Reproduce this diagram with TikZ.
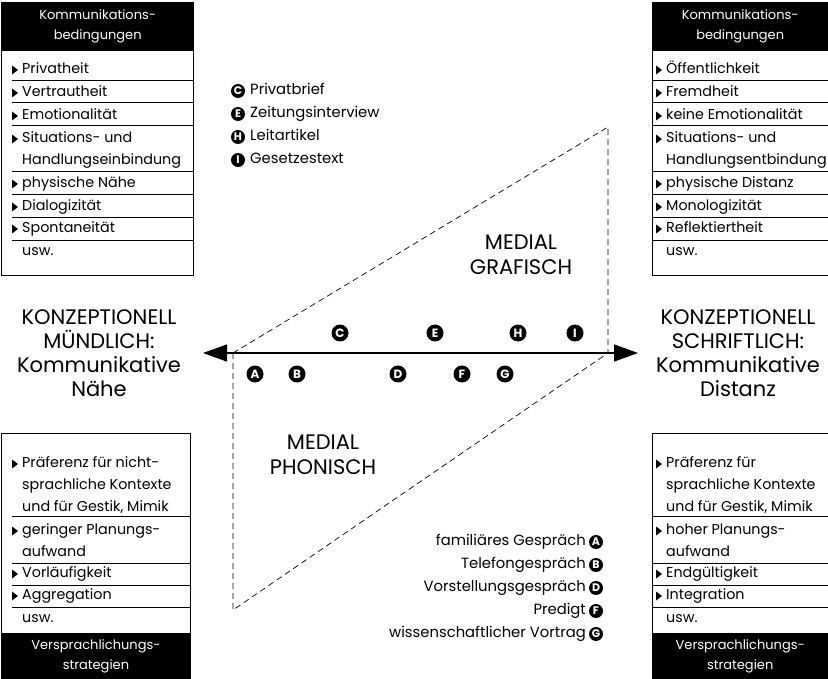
\documentclass[tikz,border=0pt]{standalone}
\usepackage{fontspec}
\setmainfont{Poppins}
\usetikzlibrary{arrows.meta}
\newcommand\itf{\fontsize{14.3}{16}\selectfont}
\newcommand\hdf{\fontsize{13}{20}\selectfont}
\newcommand\sdf{\fontsize{21}{24}\selectfont}
\newcommand\mdf{\fontsize{21}{25}\selectfont}
\begin{document}
\begin{tikzpicture}[x=1pt,y=-1pt,
  item/.style={anchor=west,inner sep=0pt,font=\itf,text height=10pt,text depth=3.5pt},
  hdr/.style={fill=black,text=white,font=\hdf,align=center,inner sep=0pt,anchor=north west},
  side/.style={font=\sdf,align=center,inner sep=0pt},
  medial/.style={font=\mdf,align=center,inner sep=0pt},
  axc/.style={circle,fill=black,text=white,inner sep=0pt,minimum size=17pt,font=\bfseries\fontsize{12}{12}\selectfont},
  lgc/.style={circle,fill=black,text=white,inner sep=0pt,minimum size=14pt,font=\bfseries\fontsize{11}{11}\selectfont},
  lgt/.style={inner sep=0pt,font=\fontsize{14.8}{16}\selectfont,text height=10.5pt,text depth=3.5pt},
  sep/.style={line width=0.8pt},
  box/.style={line width=0.9pt},
  dsh/.style={line width=0.7pt,dash pattern=on 6pt off 4pt},
  bul/.pic={\fill (0,-4.5) -- (6,0) -- (0,4.5) -- cycle;}
]
\useasboundingbox (0,0) rectangle (828,679);

% ---------- top-left box ----------
\draw[box] (1.5,2) rectangle (193.5,275);
\node[hdr,minimum width=192pt,minimum height=49pt] (hTL) at (1.5,2) {Kommunikations-\\bedingungen};
\foreach \y in {80,102,125,171,194,217,240} \draw[sep] (12,\y) -- (193.5,\y);
\foreach \y in {70,93,116,139,184,207,229} \path (12,\y) pic {bul};
\node[item] (tl1) at (22,70) {Privatheit};
\node[item] (tl2) at (22,93) {Vertrautheit};
\node[item] (tl3) at (22,116) {Emotionalität};
\node[item] (tl4) at (22,139) {Situations- und};
\node[item] (tl5) at (22,161) {Handlungseinbindung};
\node[item] (tl6) at (22,184) {physische Nähe};
\node[item] (tl7) at (22,207) {Dialogizität};
\node[item] (tl8) at (22,229) {Spontaneität};
\node[item] (tl9) at (22,252) {usw.};

% ---------- top-right box ----------
\draw[box] (652,2) rectangle (828,275);
\node[hdr,minimum width=176pt,minimum height=49pt] (hTR) at (652,2) {Kommunikations-\\bedingungen};
\foreach \y in {80,102,125,171,194,217,240} \draw[sep] (652,\y) -- (828,\y);
\foreach \y in {70,93,116,139,184,207,229} \path (656,\y) pic {bul};
\node[item] (tr1) at (666,70) {Öffentlichkeit};
\node[item] (tr2) at (666,93) {Fremdheit};
\node[item] (tr3) at (666,116) {keine Emotionalität};
\node[item] (tr4) at (666,139) {Situations- und};
\node[item] (tr5) at (666,161) {Handlungsentbindung};
\node[item] (tr6) at (666,184) {physische Distanz};
\node[item] (tr7) at (666,207) {Monologizität};
\node[item] (tr8) at (666,229) {Reflektiertheit};
\node[item] (tr9) at (666,252) {usw.};

% ---------- bottom-left box ----------
\draw[box] (1.5,433) rectangle (190,679);
\node[hdr,minimum width=188.5pt,minimum height=46pt] (fBL) at (1.5,633) {Versprachlichungs-\\strategien};
\foreach \y in {516,563,585,607} \draw[sep] (12,\y) -- (190,\y);
\foreach \y in {464,531,574,596} \path (12,\y) pic {bul};
\node[item] (bl1) at (22,464) {Präferenz für nicht-};
\node[item] (bl2) at (22,486) {sprachliche Kontexte};
\node[item] (bl3) at (22,508) {und für Gestik, Mimik};
\node[item] (bl4) at (22,531) {geringer Planungs-};
\node[item] (bl5) at (22,553) {aufwand};
\node[item] (bl6) at (22,574) {Vorläufigkeit};
\node[item] (bl7) at (22,596) {Aggregation};
\node[item] (bl8) at (22,619) {usw.};

% ---------- bottom-right box ----------
\draw[box] (652,433) rectangle (828,679);
\node[hdr,minimum width=176pt,minimum height=46pt] (fBR) at (652,633) {Versprachlichungs-\\strategien};
\foreach \y in {516,563,585,607} \draw[sep] (652,\y) -- (828,\y);
\foreach \y in {464,531,574,596} \path (656,\y) pic {bul};
\node[item] (br1) at (666,464) {Präferenz für};
\node[item] (br2) at (666,486) {sprachliche Kontexte};
\node[item] (br3) at (666,508) {und für Gestik, Mimik};
\node[item] (br4) at (666,531) {hoher Planungs-};
\node[item] (br5) at (666,553) {aufwand};
\node[item] (br6) at (666,574) {Endgültigkeit};
\node[item] (br7) at (666,596) {Integration};
\node[item] (br8) at (666,619) {usw.};

% ---------- side labels ----------
\node[side] (kl) at (99,353) {KONZEPTIONELL\\MÜNDLICH:\\Kommunikative\\Nähe};
\node[side] (kr) at (738,353) {KONZEPTIONELL\\SCHRIFTLICH:\\Kommunikative\\Distanz};

% ---------- dashed parallelogram ----------
\coordinate (P1) at (233,353);
\coordinate (P2) at (608,127);
\coordinate (P3) at (608,353);
\coordinate (P4) at (233,610);
\draw[dsh] (P1) -- (P2) -- (P3);
\draw[dsh] (P1) -- (P4) -- (P3);

% ---------- axis ----------
\coordinate (AL) at (203,353);
\coordinate (AR) at (638,353);
\draw[line width=1.2pt,{Triangle[length=24pt,width=17pt]}-{Triangle[length=24pt,width=17pt]}] (AL) -- (AR);

\node[medial] (mg) at (521,254.5) {MEDIAL\\GRAFISCH};
\node[medial] (mp) at (323,454.5) {MEDIAL\\PHONISCH};

% ---------- circles on axis ----------
\node[axc] (cC) at (340,333) {C};
\node[axc] (cE) at (435,333) {E};
\node[axc] (cH) at (518,333) {H};
\node[axc] (cI) at (575,333) {I};
\node[axc] (cA) at (255,374) {A};
\node[axc] (cB) at (297,374) {B};
\node[axc] (cD) at (398,374) {D};
\node[axc] (cF) at (462,374) {F};
\node[axc] (cG) at (505,374) {G};

% ---------- top legend ----------
\node[lgc] (lC) at (238,91) {C};
\node[lgt,anchor=west] (tC) at (250,91) {Privatbrief};
\node[lgc] (lE) at (238,114) {E};
\node[lgt,anchor=west] (tE) at (250,114) {Zeitungsinterview};
\node[lgc] (lH) at (238,137) {H};
\node[lgt,anchor=west] (tH) at (250,137) {Leitartikel};
\node[lgc] (lI) at (238,160) {I};
\node[lgt,anchor=west] (tI) at (250,160) {Gesetzestext};

% ---------- bottom legend ----------
\node[lgc] (lA) at (596,542) {A};
\node[lgt,anchor=east] (tA) at (586,542) {familiäres Gespräch};
\node[lgc] (lB) at (596,565) {B};
\node[lgt,anchor=east] (tB) at (586,565) {Telefongespräch};
\node[lgc] (lD) at (596,588) {D};
\node[lgt,anchor=east] (tD) at (586,588) {Vorstellungsgespräch};
\node[lgc] (lF) at (596,611) {F};
\node[lgt,anchor=east] (tF) at (586,611) {Predigt};
\node[lgc] (lG) at (596,634) {G};
\node[lgt,anchor=east] (tG) at (586,634) {wissenschaftlicher Vortrag};
\end{tikzpicture}
\end{document}
